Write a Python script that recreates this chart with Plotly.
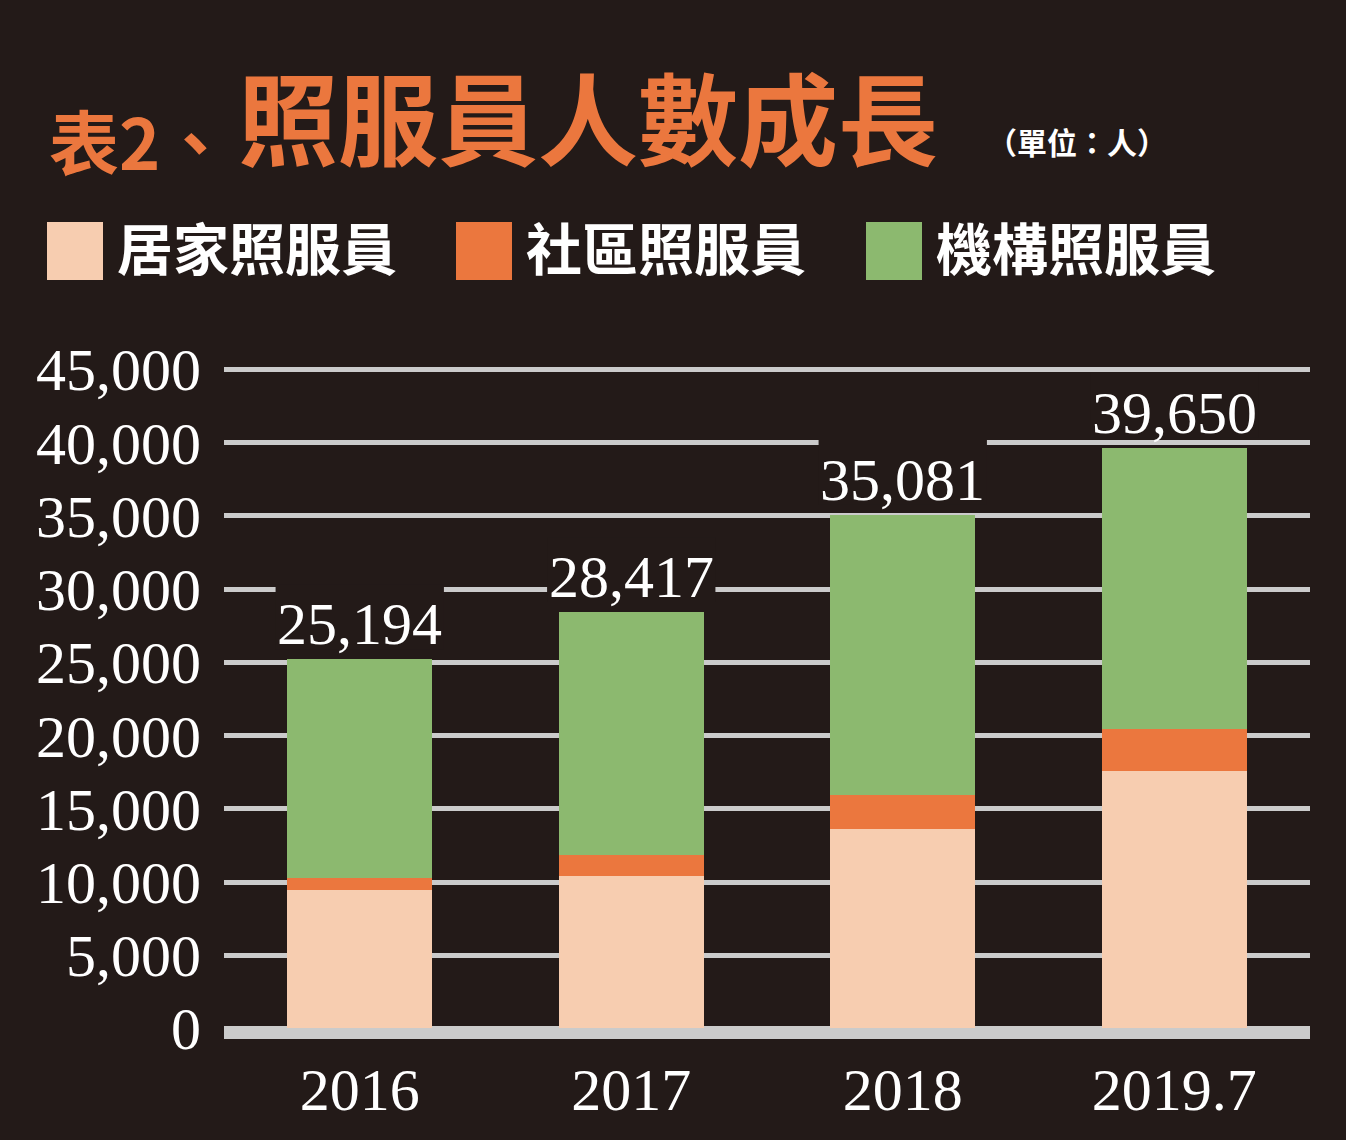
import plotly.graph_objects as go

years = ["2016", "2017", "2018", "2019.7"]
home_care = [9444, 10400, 13610, 17590]
community_care = [840, 1434, 2300, 2870]
institution_care = [14910, 16583, 19171, 19190]
totals = [25194, 28417, 35081, 39650]
series_names = ["居家照服員", "社區照服員", "機構照服員"]
y_ticks = [0, 5000, 10000, 15000, 20000, 25000, 30000, 35000, 40000, 45000]

bg = "#231a18"
beige = "#f7cdb0"
orange = "#eb773e"
green = "#8cb96f"
grid = "#cbcbcb"
serif = "Liberation Serif"
cjk = "Noto Sans CJK TC"

W, H = 1346, 1140
L, R, T, B = 224, 36, 365, 101

def px(x):
    return (x - L) / (W - L - R)

def py(y):
    return (H - B - y) / (H - T - B)

fig = go.Figure()
fig.add_trace(go.Bar(x=years, y=home_care, name=series_names[0], marker_color=beige, marker_line_width=0))
fig.add_trace(go.Bar(x=years, y=community_care, name=series_names[1], marker_color=orange, marker_line_width=0))
fig.add_trace(go.Bar(x=years, y=institution_care, name=series_names[2], marker_color=green, marker_line_width=0))

shapes = []
# thick grey baseline
shapes.append(dict(type="rect", xref="paper", yref="y", x0=0, x1=1, y0=-720, y1=0,
                   fillcolor=grid, line_width=0, layer="below"))
# gaps in the gridlines behind the total labels
for i, t in enumerate(totals):
    shapes.append(dict(type="rect", xref="x", yref="y", x0=i - 0.31, x1=i + 0.31,
                       y0=t + 700, y1=t + 5100, fillcolor=bg, line_width=0, layer="between"))

annotations = []
# category axis -> annotation x is the category index
for i, t in enumerate(totals):
    annotations.append(dict(x=i, y=t, xref="x", yref="y", text=f"{t:,}",
                            showarrow=False, yanchor="bottom", yshift=0,
                            font=dict(family=serif, size=60, color="white")))

# title
annotations.append(dict(x=px(47), y=py(140), xref="paper", yref="paper", text="表2、",
                        showarrow=False, xanchor="left", yanchor="middle",
                        font=dict(family=cjk, size=70, color=orange, weight=700)))
annotations.append(dict(x=px(236), y=py(114), xref="paper", yref="paper", text="照服員人數成長",
                        showarrow=False, xanchor="left", yanchor="middle",
                        font=dict(family=cjk, size=100, color=orange, weight=700)))
annotations.append(dict(x=px(985), y=py(141), xref="paper", yref="paper", text="（單位：人）",
                        showarrow=False, xanchor="left", yanchor="middle",
                        font=dict(family=cjk, size=30, color="white", weight=700)))

# legend drawn by hand so the swatches can be large
legend_x = [47, 456, 866]
for name, color, lx in zip(series_names, [beige, orange, green], legend_x):
    shapes.append(dict(type="rect", xref="paper", yref="paper", x0=px(lx), x1=px(lx + 56),
                       y0=py(280), y1=py(222), fillcolor=color, line_width=0))
    annotations.append(dict(x=px(lx + 68), y=py(246), xref="paper", yref="paper", text=name,
                            showarrow=False, xanchor="left", yanchor="middle",
                            font=dict(family=cjk, size=56, color="white", weight=700)))

fig.update_layout(
    width=W, height=H,
    margin=dict(l=L, r=R, t=T, b=B),
    paper_bgcolor=bg, plot_bgcolor=bg,
    barmode="stack", bargap=0.466,
    showlegend=False,
    shapes=shapes, annotations=annotations,
    hovermode=False,
)
fig.update_xaxes(type="category", range=[-0.5, 3.5], showgrid=False, zeroline=False,
                 showline=False, ticks="", automargin=False,
                 tickfont=dict(family=serif, size=60, color="white"),
                 ticklabelstandoff=10)
fig.update_yaxes(range=[-720, 45300], tickvals=y_ticks, tickformat=",",
                 showgrid=True, gridcolor=grid, gridwidth=4.5,
                 zeroline=False, showline=False, ticks="", automargin=False,
                 tickfont=dict(family=serif, size=60, color="white"),
                 ticklabelstandoff=22)

fig.write_html("out.html", config={"displayModeBar": False},
               post_script="document.body.style.margin='0';document.body.style.background='%s';" % bg)
